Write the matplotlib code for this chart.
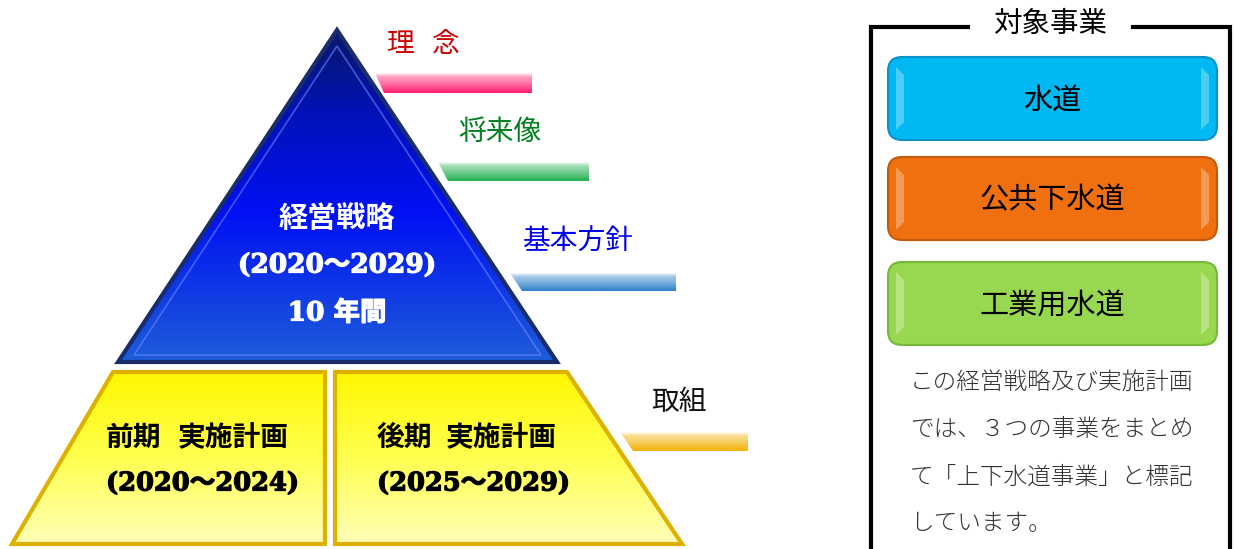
import numpy as np
import matplotlib
matplotlib.use("Agg")
import matplotlib.pyplot as plt
import matplotlib.patheffects as pe
from matplotlib.patches import Polygon, FancyBboxPatch
from matplotlib.colors import LinearSegmentedColormap

CJK = ['Noto Sans CJK JP', 'DejaVu Sans']
SERIF = ['DejaVu Serif', 'Noto Sans CJK JP']

# ---- content ----
pyramid_title = ["経営戦略", "(2020～2029)", "10 年間"]
level_labels = [["理", "念"], ["将来像"], ["基本方針"], ["取組"]]
level_colors = ["#cc0000", "#008020", "#0000ee", "#111111"]
ribbon_colors = ["#ff1a6e", "#22b050", "#2a80c8", "#f5b000"]
plan_prefix = ["前期", "後期"]
plan_titles = ["実施計画", "実施計画"]
plan_periods = ["(2020～2024)", "(2025～2029)"]
panel_title = "対象事業"
businesses = ["水道", "公共下水道", "工業用水道"]
business_colors = ["#00b8f2", "#f07010", "#98d850"]
business_edges = ["#0a92c8", "#c45a08", "#78b838"]
note_lines = ["この経営戦略及び実施計画", "では、３つの事業をまとめ",
              "て「上下水道事業」と標記", "しています。"]

fig = plt.figure(figsize=(12.35, 5.49), dpi=100)
ax = fig.add_axes([0, 0, 1, 1])
ax.set_xlim(0, 1235)
ax.set_ylim(549, 0)
ax.axis('off')


def grad_fill(verts, stops, z=1, patch=None):
    if patch is None:
        patch = Polygon(verts, closed=True, facecolor='none', edgecolor='none', zorder=z)
        ax.add_patch(patch)
    xs = [v[0] for v in verts]
    ys = [v[1] for v in verts]
    cmap = LinearSegmentedColormap.from_list('g', stops)
    arr = np.linspace(0, 1, 256).reshape(-1, 1)
    im = ax.imshow(arr, cmap=cmap, extent=[min(xs), max(xs), max(ys), min(ys)],
                   origin='upper', aspect='auto', zorder=z, interpolation='bilinear')
    im.set_clip_path(patch)
    return patch


def heavy(color, w=0.9):
    return [pe.withStroke(linewidth=w, foreground=color)]


# ---- pyramid triangle ----
apex = (337, 30)
bl = (118, 362)
br = (557, 362)
tri = [apex, br, bl]
grad_fill(tri, [(0, "#0a1868"), (0.25, "#0012b8"), (0.55, "#0010f4"), (1, "#1e5ed8")], z=2)
ax.add_patch(Polygon(tri, closed=True, facecolor='none', edgecolor='#1a2c6a', lw=3, zorder=3,
                     joinstyle='miter'))
inner = [(337, 46), (541, 355), (134, 355)]
ax.add_patch(Polygon(inner, closed=True, facecolor='none', edgecolor='#6a86ff', lw=1.2,
                     alpha=0.6, zorder=3))

ax.text(337, 218, pyramid_title[0], color='white', fontsize=21, fontweight='bold',
        family=CJK, ha='center', va='center', zorder=5)
ax.text(337, 265, pyramid_title[1], color='white', fontsize=19, fontweight='bold',
        family=SERIF, ha='center', va='center', zorder=5, path_effects=heavy('white'))
ax.text(337, 313, pyramid_title[2], color='white', fontsize=19, fontweight='bold',
        family=SERIF, ha='center', va='center', zorder=5, path_effects=heavy('white'))

# ---- ribbons ----
ribbons = [
    [(375, 73), (532, 73), (532, 93), (384, 93)],
    [(438, 162), (589, 162), (589, 181), (448, 181)],
    [(510, 273), (676, 273), (676, 291), (522, 291)],
    [(620, 432), (748, 432), (748, 451), (633, 451)],
]
for verts, c in zip(ribbons, ribbon_colors):
    grad_fill(verts, [(0, "#ffffff"), (0.35, c + "80"), (1, c)], z=2)

label_pos = [[(400, 44), (446, 44)], [(500, 132)], [(578, 242)], [(679, 402)]]
for poss, parts, c in zip(label_pos, level_labels, level_colors):
    for (x, y), t in zip(poss, parts):
        ax.text(x, y, t, color=c, fontsize=20, family=CJK, ha='center', va='center', zorder=5)

# ---- plan trapezoids ----
traps = [
    [(113, 372), (325, 372), (325, 544), (12, 544)],
    [(335, 372), (567, 372), (682, 544), (335, 544)],
]
for verts in traps:
    grad_fill(verts, [(0, "#fff700"), (0.5, "#ffff50"), (1, "#ffffb8")], z=2)
    ax.add_patch(Polygon(verts, closed=True, facecolor='none', edgecolor='#deb000', lw=3,
                         zorder=3, joinstyle='miter'))

plan_x = [106, 377]
title_x = [178, 446]
for x, tx, pre, t, p in zip(plan_x, title_x, plan_prefix, plan_titles, plan_periods):
    ax.text(x, 438, pre, color='black', fontsize=20, fontweight='bold', family=CJK,
            ha='left', va='center', zorder=5)
    ax.text(tx, 438, t, color='black', fontsize=20, fontweight='bold', family=CJK,
            ha='left', va='center', zorder=5)
    ax.text(x, 483, p, color='black', fontsize=18.5, fontweight='bold', family=SERIF,
            ha='left', va='center', zorder=5, path_effects=heavy('black'))

# ---- right panel ----
lw_box = 3
ax.plot([968, 871, 871], [27, 27, 549], color='black', lw=lw_box, solid_joinstyle='miter', zorder=4)
ax.plot([1133, 1230, 1230], [27, 27, 549], color='black', lw=lw_box, solid_joinstyle='miter', zorder=4)
ax.text(1050, 24, panel_title, color='black', fontsize=20.5, family=CJK,
        ha='center', va='center', zorder=5)

btn_y = [(57, 140), (157, 240), (262, 345)]
for (y0, y1), name, c, ec in zip(btn_y, businesses, business_colors, business_edges):
    x0, x1 = 888, 1217
    p = FancyBboxPatch((x0, y0), x1 - x0, y1 - y0,
                       boxstyle="round,pad=0,rounding_size=14",
                       facecolor=c, edgecolor=ec, lw=1.5, zorder=3)
    ax.add_patch(p)
    # bevel highlights
    for hx in (x0 + 8, x1 - 16):
        ax.add_patch(Polygon([(hx, y0 + 10), (hx + 8, y0 + 18), (hx + 8, y1 - 18), (hx, y1 - 10)],
                             closed=True, facecolor='white', alpha=0.3, edgecolor='none', zorder=4))
    ax.text((x0 + x1) / 2, (y0 + y1) / 2 + 2, name, color='black', fontsize=21,
            family=CJK, ha='center', va='center', zorder=5)

note_y = [382, 429, 477, 524]
for y, line in zip(note_y, note_lines):
    ax.text(910, y, line, color='#333333', fontsize=17, family=CJK, fontweight='light',
            ha='left', va='center', zorder=5)

fig.savefig("out.png", dpi=100)
